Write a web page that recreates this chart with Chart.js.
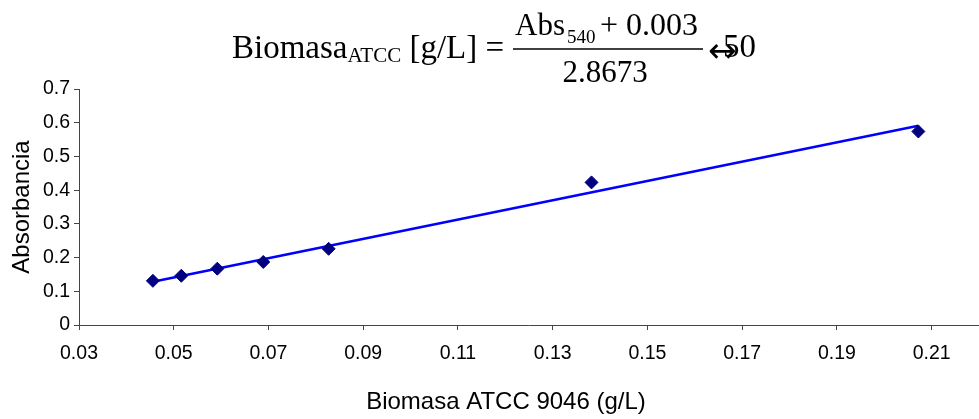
<!DOCTYPE html>
<html>
<head>
<meta charset="utf-8">
<script src="https://cdn.jsdelivr.net/npm/chart.js@4/dist/chart.umd.min.js"></script>
<style>
  body { margin: 0; background: #fff; }
  #wrap { width: 979px; height: 419px; position: relative; }
</style>
</head>
<body>
<div id="wrap"><canvas id="myChart" width="979" height="419"></canvas></div>
<script>
// measured samples
const biomasa = [0.0456, 0.0516, 0.0592, 0.0689, 0.0827, 0.1382, 0.2072];
const absorbancia = [0.131, 0.146, 0.167, 0.187, 0.226, 0.423, 0.574];

// trend line end points (as drawn in the picture)
const trendX = [0.0456, 0.2072];
const trendY = [0.128, 0.591];

const xTicks = [0.03, 0.05, 0.07, 0.09, 0.11, 0.13, 0.15, 0.17, 0.19, 0.21];
const yTicks = [0, 0.1, 0.2, 0.3, 0.4, 0.5, 0.6, 0.7];

const xTitle = 'Biomasa ATCC 9046 (g/L)';
const yTitle = 'Absorbancia';

const sans = "'Liberation Sans', Arial, sans-serif";
const serif = "'Liberation Serif', 'Times New Roman', serif";

// draws the calibration equation and the x axis title
const extraText = {
  id: 'extraText',
  afterDraw(chart) {
    const ctx = chart.ctx;
    ctx.save();
    ctx.fillStyle = '#000';
    ctx.textBaseline = 'alphabetic';
    ctx.textAlign = 'left';

    let x = 232;
    ctx.font = '33px ' + serif;
    ctx.fillText('Biomasa', x, 58);
    x += ctx.measureText('Biomasa').width;
    ctx.font = '21px ' + serif;
    ctx.fillText('ATCC', x, 62);
    x += ctx.measureText('ATCC').width;
    ctx.font = '33px ' + serif;
    ctx.fillText(' [g/L] =', x, 58);

    // numerator
    ctx.font = '31px ' + serif;
    ctx.fillText('Abs', 515, 35);
    ctx.font = '19px ' + serif;
    ctx.fillText('540', 567, 43);
    ctx.font = '32px ' + serif;
    ctx.fillText('+ 0.003', 600, 35);

    // bar
    ctx.strokeStyle = '#000';
    ctx.lineWidth = 1.5;
    ctx.beginPath();
    ctx.moveTo(513, 49);
    ctx.lineTo(703, 49);
    ctx.stroke();

    // denominator
    ctx.font = '31px ' + serif;
    ctx.textAlign = 'center';
    ctx.fillText('2.8673', 605, 82);

    ctx.textAlign = 'left';
    ctx.font = '33px ' + serif;
    ctx.fillText('50', 723, 57);
    ctx.font = '34px DejaVu Sans';
    ctx.fillText('\u2194', 708, 62);

    // x axis title
    ctx.font = '24px ' + sans;
    ctx.textAlign = 'center';
    ctx.textBaseline = 'middle';
    ctx.fillText(xTitle, 506, 402);
    ctx.restore();
  }
};

new Chart('myChart', {
  type: 'scatter',
  data: {
    datasets: [{
      data: biomasa.map((b, i) => ({ x: b, y: absorbancia[i] })),
      pointStyle: 'rectRot',
      pointRadius: 6.5,
      pointBackgroundColor: '#000080',
      pointBorderColor: '#000080',
      pointBorderWidth: 1,
      showLine: false
    }, {
      data: trendX.map((b, i) => ({ x: b, y: trendY[i] })),
      showLine: true,
      borderColor: '#0000ff',
      borderWidth: 2.5,
      pointRadius: 0,
      fill: false
    }]
  },
  options: {
    responsive: false,
    animation: false,
    layout: { autoPadding: false, padding: { top: 89, right: 0, left: 0, bottom: 0 } },
    plugins: {
      legend: { display: false },
      tooltip: { enabled: false }
    },
    scales: {
      x: {
        type: 'linear',
        min: 0.03,
        max: 0.22,
        afterBuildTicks: s => { s.ticks = xTicks.map(v => ({ value: v })); },
        afterFit: s => { s.height = 94; },
        grid: { drawOnChartArea: false, tickLength: 5, color: '#444' },
        border: { color: '#444', width: 1 },
        ticks: { color: '#000', font: { family: sans, size: 19.5 }, padding: 12, maxRotation: 0,
          callback: v => v.toFixed(2) },
        title: { display: false }
      },
      y: {
        min: 0,
        max: 0.7,
        afterBuildTicks: s => { s.ticks = yTicks.map(v => ({ value: v })); },
        afterFit: s => { s.width = 79; },
        grid: { drawOnChartArea: false, tickLength: 5, color: '#444' },
        border: { color: '#444', width: 1 },
        ticks: { color: '#000', font: { family: sans, size: 19.5 }, padding: 4,
          callback: v => v === 0 ? '0' : v.toFixed(1) },
        title: { display: true, text: yTitle, color: '#000', font: { family: sans, size: 24 }, padding: { top: 8, bottom: 0 } }
      }
    }
  },
  plugins: [extraText]
});
</script>
</body>
</html>
